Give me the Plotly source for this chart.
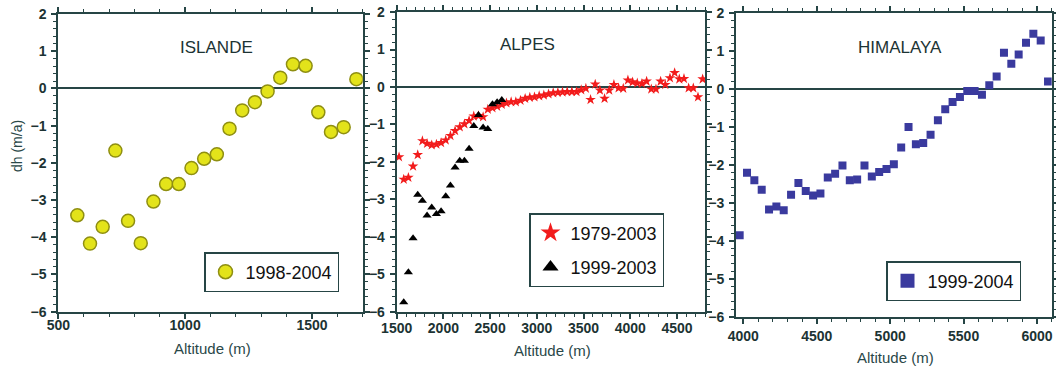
import plotly.graph_objects as go

# ---------------- data ----------------
isl_alt = [575, 625, 675, 725, 775, 825, 875, 925, 975, 1025, 1075, 1125, 1175,
           1225, 1275, 1325, 1375, 1425, 1475, 1525, 1575, 1625, 1675]
isl_dh = [-3.41, -4.17, -3.72, -1.67, -3.56, -4.16, -3.04, -2.57, -2.57, -2.14,
          -1.89, -1.77, -1.08, -0.59, -0.37, -0.08, 0.29, 0.65, 0.61, -0.64,
          -1.17, -1.04, 0.25]

alp79_alt = [1525, 1575, 1625, 1675, 1725, 1775, 1825, 1875, 1925, 1975, 2025,
             2075, 2125, 2175, 2225, 2275, 2325, 2375, 2425, 2475, 2525, 2575,
             2625, 2675, 2725, 2775, 2825, 2875, 2925, 2975, 3025, 3075, 3125,
             3175, 3225, 3275, 3325, 3375, 3425, 3475, 3525, 3575, 3625, 3675,
             3725, 3775, 3825, 3875, 3925, 3975, 4025, 4075, 4125, 4175, 4225,
             4275, 4325, 4375, 4425, 4475, 4525, 4575, 4625, 4675, 4725, 4775]
alp79_dh = [-1.87, -2.47, -2.42, -2.12, -1.81, -1.44, -1.51, -1.55, -1.53, -1.49,
            -1.42, -1.30, -1.17, -1.07, -0.99, -0.90, -0.78, -0.77, -0.80, -0.60,
            -0.56, -0.52, -0.47, -0.43, -0.40, -0.40, -0.36, -0.31, -0.28, -0.27,
            -0.24, -0.22, -0.19, -0.16, -0.15, -0.14, -0.13, -0.13, -0.13, -0.08,
            -0.04, -0.34, 0.07, -0.09, -0.31, -0.09, 0.06, -0.03, -0.04, 0.18,
            0.13, 0.10, 0.09, 0.15, -0.06, -0.06, 0.15, 0.06, 0.24, 0.38,
            0.21, 0.22, -0.03, -0.03, -0.27, 0.21]

alp99_alt = [1575, 1625, 1675, 1725, 1775, 1825, 1875, 1925, 1975, 2025, 2075,
             2125, 2175, 2225, 2275, 2325, 2375, 2425, 2475, 2525, 2575, 2625]
alp99_dh = [-5.75, -4.95, -4.04, -2.88, -3.04, -3.43, -3.22, -3.39, -3.32, -2.92,
            -2.63, -2.15, -1.97, -1.97, -1.65, -1.04, -0.75, -1.08, -1.12, -0.46,
            -0.41, -0.35]

him_alt = [3975, 4025, 4075, 4125, 4175, 4225, 4275, 4325, 4375, 4425, 4475,
           4525, 4575, 4625, 4675, 4725, 4775, 4825, 4875, 4925, 4975, 5025,
           5075, 5125, 5175, 5225, 5275, 5325, 5375, 5425, 5475, 5525, 5575,
           5625, 5675, 5725, 5775, 5825, 5875, 5925, 5975, 6025, 6075]
him_dh = [-3.86, -2.21, -2.41, -2.66, -3.18, -3.10, -3.20, -2.79, -2.48, -2.69,
          -2.81, -2.76, -2.34, -2.24, -2.02, -2.41, -2.39, -2.02, -2.31, -2.19,
          -2.11, -1.99, -1.55, -1.01, -1.46, -1.43, -1.21, -0.83, -0.54, -0.35,
          -0.22, -0.06, -0.06, -0.16, 0.09, 0.32, 0.95, 0.66, 0.90, 1.21, 1.45,
          1.27, 0.19]

panel_titles = ["ISLANDE", "ALPES", "HIMALAYA"]
x_title = "Altitude (m)"
y_title = "dh (m/a)"
y_ticks = [-6, -5, -4, -3, -2, -1, 0, 1, 2]

# ---------------- style ----------------
W, H = 1056, 367
LINE = "#264545"
TXT = "#1c3333"
FONT = "Liberation Sans, Arial, sans-serif"

def px(x):
    return x / W

def py(y):
    return 1 - y / H

fig = go.Figure()

# data traces
fig.add_trace(go.Scatter(x=isl_alt, y=isl_dh, mode="markers", xaxis="x", yaxis="y",
                         marker=dict(symbol="circle", size=13, color="#e3e31a",
                                     line=dict(color="#8f8f12", width=1.5)),
                         showlegend=False))
fig.add_trace(go.Scatter(x=alp79_alt, y=alp79_dh, mode="markers", xaxis="x2", yaxis="y2",
                         marker=dict(symbol="star", size=8, color="#f21c1c", line=dict(width=0)),
                         showlegend=False))
fig.add_trace(go.Scatter(x=alp99_alt, y=alp99_dh, mode="markers", xaxis="x2", yaxis="y2",
                         marker=dict(symbol="triangle-up", size=8, color="#000000", line=dict(width=0)),
                         showlegend=False))
fig.add_trace(go.Scatter(x=him_alt, y=him_dh, mode="markers", xaxis="x3", yaxis="y3",
                         marker=dict(symbol="square", size=8, color="#3a3a9e", line=dict(width=0)),
                         showlegend=False))

# legend-only traces (bigger legend symbols)
fig.add_trace(go.Scatter(x=[None], y=[None], mode="markers", xaxis="x", yaxis="y",
                         name="1998-2004", legend="legend",
                         marker=dict(symbol="circle", size=14, color="#e3e31a",
                                     line=dict(color="#8f8f12", width=1.5))))
fig.add_trace(go.Scatter(x=[None], y=[None], mode="markers", xaxis="x2", yaxis="y2",
                         name="1979-2003", legend="legend2", legendgroup="a",
                         marker=dict(symbol="star", size=15, color="#f21c1c", line=dict(width=0))))
fig.add_trace(go.Scatter(x=[None], y=[None], mode="markers", xaxis="x2", yaxis="y2",
                         name="1999-2003", legend="legend2", legendgroup="b",
                         marker=dict(symbol="triangle-up", size=14, color="#000000", line=dict(width=0))))
fig.add_trace(go.Scatter(x=[None], y=[None], mode="markers", xaxis="x3", yaxis="y3",
                         name="1999-2004", legend="legend3",
                         marker=dict(symbol="square", size=14, color="#3a3a9e", line=dict(width=0))))

# panel geometry in reference pixels: (left, right, top, bottom)
panels = [(58.3, 362.7, 14.0, 311.7), (396.7, 705.0, 12.0, 311.7), (736.0, 1051.7, 12.7, 316.7)]
xranges = [[500, 1700], [1500, 4800], [3950, 6100]]
xdticks = [500, 500, 500]
standoffs = [-6, -3, 0]

def axis_common():
    return dict(showline=True, linecolor=LINE, linewidth=2, mirror="allticks",
                ticks="outside", ticklen=5, tickwidth=1.5, tickcolor=LINE,
                showgrid=False, zeroline=False, automargin=False,
                ticklabeloverflow="allow",
                tickfont=dict(family=FONT, size=14, color=TXT, weight="bold"),
                minor=dict(ticks="outside", ticklen=3, tickwidth=1, tickcolor=LINE, showgrid=False))

layout = dict(width=W, height=H, margin=dict(l=0, r=0, t=0, b=0, autoexpand=False),
              paper_bgcolor="white", plot_bgcolor="white",
              font=dict(family=FONT, color=TXT))

for i, (l, r, t, b) in enumerate(panels):
    sx = "" if i == 0 else str(i + 1)
    xa = axis_common()
    xa.update(domain=[px(l), px(r)], range=xranges[i], dtick=xdticks[i], tick0=0,
              anchor="y" + sx, ticklabelstandoff=standoffs[i])
    xa["minor"].update(dtick=100)
    ya = axis_common()
    ya.update(domain=[py(b), py(t)], range=[-6.002, 2.002], tickvals=y_ticks,
              anchor="x" + sx, zeroline=True, zerolinecolor=LINE, zerolinewidth=1.5,
              ticklabelstandoff=2)
    ya["minor"].update(dtick=0.2)
    layout["xaxis" + sx] = xa
    layout["yaxis" + sx] = ya

legend_style = dict(bgcolor="white", bordercolor=LINE, borderwidth=1.5,
                    font=dict(family=FONT, size=18, color="#111111"),
                    xanchor="left", yanchor="top", itemclick=False)
layout["legend"] = dict(legend_style, x=px(204), y=py(252))
layout["legend2"] = dict(legend_style, x=px(529), y=py(213), traceorder="grouped", tracegroupgap=8)
layout["legend3"] = dict(legend_style, x=px(886), y=py(261))

annos = []
title_pos = [(216, 47), (527, 44), (900, 47)]
for (x, y), txt in zip(title_pos, panel_titles):
    annos.append(dict(text=txt, x=px(x), y=py(y), xref="paper", yref="paper",
                      xanchor="center", yanchor="middle",
                      showarrow=False, font=dict(family=FONT, size=17, color=TXT)))
xt_pos = [(212, 348), (552, 350), (895, 357)]
for (x, y) in xt_pos:
    annos.append(dict(text=x_title, x=px(x), y=py(y), xref="paper", yref="paper",
                      xanchor="center", yanchor="middle",
                      showarrow=False, font=dict(family=FONT, size=15, color="#2a4848")))
annos.append(dict(text=y_title, x=px(17), y=py(146), xref="paper", yref="paper",
                  xanchor="center", yanchor="middle",
                  showarrow=False, textangle=-90, font=dict(family=FONT, size=14, color="#2a4848")))
layout["annotations"] = annos

fig.update_layout(**layout)
fig.write_html("out.html",
               config={"displayModeBar": False},
               post_script="document.body.style.margin='0';document.body.style.overflow='hidden';")
